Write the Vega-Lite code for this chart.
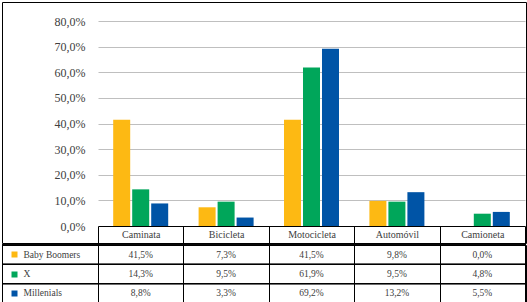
{
  "$schema": "https://vega.github.io/schema/vega-lite/v6.json",
  "padding": {"left": 1, "top": 1, "right": 1, "bottom": 1},
  "background": "white",
  "config": {
    "locale": {"number": {"decimal": ",", "thousands": ".", "grouping": [3], "currency": ["", " €"]}},
    "view": {"stroke": "black", "strokeWidth": 1},
    "font": "Liberation Serif",
    "axis": {"labelFont": "Liberation Serif", "labelColor": "#404040", "title": null, "minExtent": 0},
    "text": {"font": "Liberation Serif"}
  },
  "datasets": {
    "t": [
      {"modo": "Caminata", "grupo": "Baby Boomers", "valor": 0.415},
      {"modo": "Bicicleta", "grupo": "Baby Boomers", "valor": 0.073},
      {"modo": "Motocicleta", "grupo": "Baby Boomers", "valor": 0.415},
      {"modo": "Automóvil", "grupo": "Baby Boomers", "valor": 0.098},
      {"modo": "Camioneta", "grupo": "Baby Boomers", "valor": 0.0},
      {"modo": "Caminata", "grupo": "X", "valor": 0.143},
      {"modo": "Bicicleta", "grupo": "X", "valor": 0.095},
      {"modo": "Motocicleta", "grupo": "X", "valor": 0.619},
      {"modo": "Automóvil", "grupo": "X", "valor": 0.095},
      {"modo": "Camioneta", "grupo": "X", "valor": 0.048},
      {"modo": "Caminata", "grupo": "Millenials", "valor": 0.088},
      {"modo": "Bicicleta", "grupo": "Millenials", "valor": 0.033},
      {"modo": "Motocicleta", "grupo": "Millenials", "valor": 0.692},
      {"modo": "Automóvil", "grupo": "Millenials", "valor": 0.132},
      {"modo": "Camioneta", "grupo": "Millenials", "valor": 0.055}
    ]
  },
  "vconcat": [
    {
      "width": 524,
      "height": 241,
      "data": {"name": "t"},
      "mark": {"type": "bar"},
      "encoding": {
        "x": {
          "field": "modo", "type": "nominal",
          "sort": ["Caminata", "Bicicleta", "Motocicleta", "Automóvil", "Camioneta"],
          "scale": {"range": [96, 523], "paddingInner": 0, "paddingOuter": 0},
          "axis": {"orient": "bottom", "domain": false, "grid": false, "ticks": true, "tickBand": "extent", "tickSize": -17, "tickColor": "black", "tickWidth": 1, "labelAngle": 0, "labelBaseline": "middle", "labelPadding": 8.5, "labelFontSize": 10, "labelColor": "#404040"}
        },
        "xOffset": {
          "field": "grupo", "type": "nominal",
          "sort": ["Baby Boomers", "X", "Millenials"],
          "scale": {"paddingInner": 0.105, "paddingOuter": 0.8}
        },
        "y": {
          "field": "valor", "type": "quantitative",
          "scale": {"domain": [0, 0.8], "range": [224, 19], "nice": false, "zero": true},
          "axis": {"values": [0, 0.1, 0.2, 0.3, 0.4, 0.5, 0.6, 0.7, 0.8], "format": ".1%", "grid": true, "gridColor": {"condition": {"test": "datum.value === 0", "value": "black"}, "value": "#bfbfbf"}, "gridWidth": 1, "ticks": false, "domain": false, "labelPadding": -83, "labelAlign": "right", "labelFontSize": 12}
        },
        "color": {
          "field": "grupo", "type": "nominal",
          "scale": {"domain": ["Baby Boomers", "X", "Millenials"], "range": ["#FDB913", "#00A65A", "#0054A6"]},
          "legend": null
        }
      }
    },
    {
      "width": 524,
      "height": 58,
      "data": {"name": "t"},
      "layer": [
        {
          "mark": {"type": "rule", "color": "black", "strokeWidth": 1},
          "encoding": {
            "y": {
              "field": "grupo", "type": "nominal", "bandPosition": 0,
              "sort": ["Baby Boomers", "X", "Millenials"],
              "scale": {"paddingInner": 0, "paddingOuter": 0},
              "axis": {"orient": "left", "offset": -9, "domain": false, "grid": false, "ticks": true, "tickSize": -6, "tickWidth": 6, "tickCap": "butt", "tickColor": {"condition": [{"test": "datum.value === 'Baby Boomers'", "value": "#FDB913"}, {"test": "datum.value === 'X'", "value": "#00A65A"}], "value": "#0054A6"}, "labelAlign": "left", "labelPadding": -6, "labelFontSize": 9.5, "labelColor": "#404040"}
            }
          }
        },
        {
          "mark": {"type": "text", "font": "Liberation Serif", "fontSize": 9.5, "color": "#404040"},
          "encoding": {
            "x": {
              "field": "modo", "type": "nominal",
              "sort": ["Caminata", "Bicicleta", "Motocicleta", "Automóvil", "Camioneta"],
              "scale": {"range": [96, 523], "paddingInner": 0, "paddingOuter": 0},
              "axis": {"orient": "bottom", "grid": true, "gridColor": "black", "gridOpacity": 1, "gridWidth": 1, "tickBand": "extent", "labels": false, "ticks": false, "domain": false}
            },
            "y": {
              "field": "grupo", "type": "nominal",
              "sort": ["Baby Boomers", "X", "Millenials"],
              "scale": {"paddingInner": 0, "paddingOuter": 0},
              "axis": {"orient": "left", "offset": -9, "domain": false, "grid": false, "ticks": true, "tickSize": -6, "tickWidth": 6, "tickCap": "butt", "tickColor": {"condition": [{"test": "datum.value === 'Baby Boomers'", "value": "#FDB913"}, {"test": "datum.value === 'X'", "value": "#00A65A"}], "value": "#0054A6"}, "labelAlign": "left", "labelPadding": -6, "labelFontSize": 9.5, "labelColor": "#404040"}
            },
            "text": {"field": "valor", "type": "quantitative", "format": ".1%"}
          }
        }
      ]
    }
  ],
  "spacing": 0,
  "resolve": {"scale": {"x": "independent", "y": "independent", "color": "independent"}}
}
